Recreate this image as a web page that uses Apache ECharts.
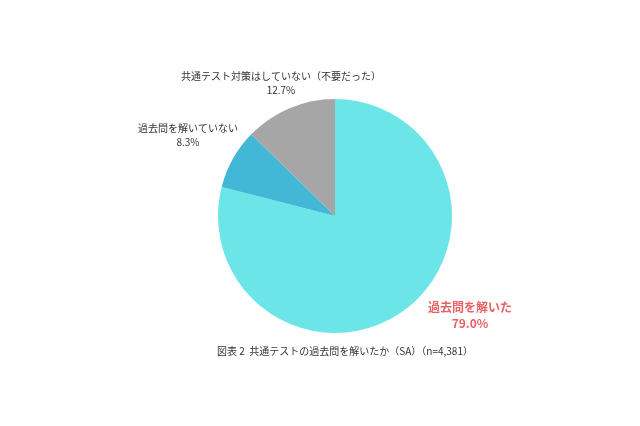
<!DOCTYPE html>
<html>
<head>
<meta charset="UTF-8">
<title>共通テストの過去問を解いたか</title>
<script src="https://cdn.jsdelivr.net/npm/echarts@6/dist/echarts.min.js"></script>
<style>
  html, body { margin: 0; padding: 0; background: #fff; }
  #main { width: 640px; height: 426px; }
</style>
</head>
<body>
<div id="main"></div>
<script>
// 回答カテゴリと割合（%）
var names = ['過去問を解いた', '過去問を解いていない', '共通テスト対策はしていない（不要だった）'];
var values = [79.0, 8.3, 12.7];
var colors = ['#6ce5e8', '#43b8d6', '#a6a6a6'];

// ラベルの置き場所（画面座標）
var labelPos = [[470, 315], [188, 135], [281, 83]];

var chart = echarts.init(document.getElementById('main'));

var pieData = [];
for (var i = 0; i < names.length; i++) {
  var item = { name: names[i], value: values[i], itemStyle: { color: colors[i] } };
  if (i === 0) {
    item.label = { color: '#ea6062', fontSize: 12, fontWeight: 'bold', lineHeight: 16 };
  }
  pieData.push(item);
}

chart.setOption({
  textStyle: { fontFamily: '"Noto Sans CJK JP", "Noto Sans", sans-serif' },
  title: {
    text: '図表 2  共通テストの過去問を解いたか（SA）（n=4,381）',
    left: 212,
    top: 341,
    textStyle: { fontSize: 10, fontWeight: 'normal', color: '#333' }
  },
  series: [{
    type: 'pie',
    radius: 117,
    center: [335, 216],
    startAngle: 90,
    clockwise: true,
    silent: true,
    label: {
      show: true,
      position: 'outside',
      color: '#333',
      fontSize: 10,
      lineHeight: 14,
      align: 'center',
      formatter: function (p) { return p.name + '\n' + p.value.toFixed(1) + '%'; }
    },
    labelLine: { show: false },
    labelLayout: function (p) {
      var pos = labelPos[p.dataIndex];
      return { x: pos[0], y: pos[1], align: 'center', verticalAlign: 'middle' };
    },
    data: pieData
  }]
});
</script>
</body>
</html>
